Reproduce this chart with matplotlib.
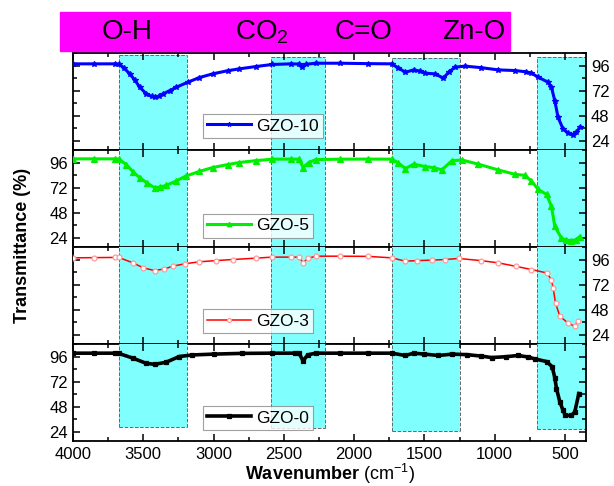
import numpy as np
import matplotlib
matplotlib.use("Agg")
import matplotlib.pyplot as plt
from matplotlib.patches import Rectangle
from matplotlib.ticker import MultipleLocator

# wavenumber (cm-1) and transmittance (%), top panel first
w_gzo10 = [4000, 3850, 3700, 3675, 3640, 3596, 3560, 3525, 3478, 3440, 3419, 3390, 3360, 3310,
           3265, 3183, 3100, 3006, 2900, 2817, 2700, 2582, 2450, 2391, 2370, 2340, 2273, 2100,
           1900, 1732, 1690, 1635, 1576, 1530, 1493, 1423, 1364, 1328, 1281, 1210, 1100, 974,
           856, 780, 738, 690, 620, 596, 572, 549, 513, 480, 442, 418, 395]
t_gzo10 = [97.6, 97.6, 97.6, 97.4, 94, 88, 82, 75.2, 68.8, 66.3, 65.5, 66.5, 68.8, 72,
           75.2, 80, 84.5, 88, 91, 92.8, 95, 97, 97.6, 97.4, 95, 97.2, 98.2, 98.2,
           97.8, 97.6, 94, 89.6, 91.8, 90.5, 88.6, 88, 83.8, 89.6, 94.4, 95.4, 94, 91.8,
           91.2, 90, 88.6, 84.8, 80, 75.2, 62.3, 46.3, 35.1, 31.5, 29.7, 31.9, 36.7]

w_gzo5 = [4000, 3850, 3700, 3675, 3620, 3573, 3525, 3470, 3419, 3380, 3338, 3270, 3197, 3100,
          3006, 2900, 2817, 2700, 2582, 2450, 2391, 2363, 2322, 2273, 2100, 1900, 1732, 1690,
          1635, 1576, 1493, 1430, 1376, 1305, 1234, 1116, 974, 856, 785, 738, 690, 631,
          596, 572, 525, 490, 454, 420, 395]
t_gzo5 = [99.5, 99.5, 99.5, 99.3, 94, 87, 81.5, 76, 71.8, 72.5, 74, 78, 83, 87.5,
          91.2, 94, 96, 97.8, 99.2, 99.3, 99.2, 91.2, 96, 98.8, 99.2, 99.3, 99.2, 96,
          90.2, 94.4, 92.1, 91, 88.9, 97.6, 98.5, 94.4, 88.9, 84.7, 83.7, 78.2, 70.2, 65.4,
          54.1, 34.8, 23.5, 21.5, 21.2, 22, 25]

w_gzo3 = [4000, 3850, 3700, 3675, 3573, 3500, 3419, 3350, 3289, 3200, 3100, 2980, 2864, 2700,
          2582, 2450, 2391, 2363, 2330, 2273, 2100, 1900, 1732, 1635, 1550, 1446, 1350, 1257,
          1100, 974, 850, 738, 631, 596, 584, 567, 536, 478, 430, 407]
t_gzo3 = [97.6, 97.8, 98, 98, 92.8, 88, 85.4, 87, 89.6, 92, 93.8, 95, 96, 97.3,
          98.3, 98.3, 98.3, 92.8, 97, 99.2, 99.2, 99, 97.6, 94.4, 95, 95.4, 96, 97,
          95, 92.8, 89.5, 86.4, 83.2, 76.8, 68.8, 54.4, 41.6, 35.1, 31.9, 36.8]

w_gzo0 = [4000, 3850, 3700, 3675, 3573, 3480, 3419, 3338, 3244, 3150, 3000, 2800, 2582, 2420,
          2391, 2363, 2330, 2273, 2100, 1900, 1732, 1635, 1576, 1500, 1400, 1300, 1200, 1100,
          1022, 920, 833, 760, 714, 631, 591, 572, 560, 536, 513, 497, 454, 430, 401]
t_gzo0 = [99.2, 99.2, 99.2, 99, 94.4, 89.5, 88.5, 90.5, 96, 97.5, 98.3, 99, 99.2, 99.2,
          99, 91.8, 97.6, 99.2, 99.2, 99.2, 99.2, 97, 99.2, 98.3, 97, 98.3, 97.8, 96.5,
          95, 95.8, 97, 95.5, 93.7, 91.2, 86.3, 75.7, 65.3, 52.4, 44.3, 39.5, 39.5, 42.8, 60.5]

names = ["GZO-10", "GZO-5", "GZO-3", "GZO-0"]
waves = [w_gzo10, w_gzo5, w_gzo3, w_gzo0]
trans = [t_gzo10, t_gzo5, t_gzo3, t_gzo0]

# band regions (cm-1) and their labels in the header strip
band_labels = ["O-H", "CO$_2$", "C=O", "Zn-O"]
band_lo = [3675, 2590, 1730, 700]
band_hi = [3190, 2210, 1245, 350]

yticks = [24, 48, 72, 96]

# styles
colors = ["#0000ff", "#00ee00", "#ff0000", "#000000"]
markers = ["*", "^", "o", "s"]
mfcs = ["#0000ff", "#00ee00", "white", "#000000"]
mecs = ["#0000ff", "#00ee00", "#ff9a9a", "#000000"]
lws = [2.2, 2.2, 1.1, 2.6]
msizes = [4, 4, 3.5, 3.5]
label_right = [True, False, True, False]
leg_y = [0.125, 0.095, 0.11, 0.115]
band_top_px = [55, 57, 58, 57]
band_bot_px = [427, 428, 431, 429]
band_text_x = [127, 262, 364, 474]

plt.rc("font", family=["Liberation Sans", "DejaVu Sans"], size=12)
plt.rc("mathtext", fontset="custom", rm="Liberation Sans", bf="Liberation Sans:bold",
       it="Liberation Sans:italic")
plt.rc("axes", linewidth=1.3)

W, H = 614, 486
fig = plt.figure(figsize=(W / 100, H / 100), dpi=100)
left, right, top, bottom = 73 / W, 586 / W, 1 - 53 / H, 1 - 441 / H
ph = (top - bottom) / 4

axes = []
for i in range(4):
    ax = fig.add_axes([left, top - (i + 1) * ph, right - left, ph],
                      sharex=axes[0] if axes else None)
    axes.append(ax)

for i, ax in enumerate(axes):
    ax.set_xlim(4000, 350)
    ax.set_ylim(15, 108)
    ax.xaxis.set_major_locator(MultipleLocator(500))
    ax.xaxis.set_minor_locator(MultipleLocator(250))
    ax.yaxis.set_major_locator(MultipleLocator(24))
    ax.yaxis.set_minor_locator(MultipleLocator(12))
    ax.set_yticks(yticks)
    ax.tick_params(which="both", direction="in", top=True, right=True, width=1.1)
    ax.tick_params(which="major", length=5)
    ax.tick_params(which="minor", length=3)
    ax.tick_params(axis="y", labelleft=not label_right[i], labelright=label_right[i])
    ax.tick_params(axis="x", labelbottom=(i == 3), pad=4)
    ax.set_axisbelow(False)
    ax.spines["top"].set_zorder(1)
    ax.spines["bottom"].set_zorder(1)

    # cyan band regions, cut to their vertical extent in figure space
    pos = ax.get_position()
    for j in range(len(band_lo)):
        ftop = 1 - band_top_px[j] / H
        fbot = 1 - band_bot_px[j] / H
        ymax = min(max((ftop - pos.y0) / pos.height, 0), 1)
        ymin = min(max((fbot - pos.y0) / pos.height, 0), 1)
        if ymax <= ymin:
            continue
        ax.axvspan(band_lo[j], band_hi[j], ymin=ymin, ymax=ymax, color="#80ffff",
                   lw=0, zorder=1.5)
        for xe in (band_lo[j], band_hi[j]):
            ax.axvline(xe, ymin=ymin, ymax=ymax, color="#666666", ls="--", lw=0.7,
                       zorder=1.6)
        tr = ax.get_xaxis_transform()
        if ymax < 1:
            ax.plot([band_lo[j], band_hi[j]], [ymax, ymax], transform=tr, color="#666666",
                    ls="--", lw=0.7, zorder=1.6)
        if ymin > 0:
            ax.plot([band_lo[j], band_hi[j]], [ymin, ymin], transform=tr, color="#666666",
                    ls="--", lw=0.7, zorder=1.6)

    ax.plot(waves[i], trans[i], color=colors[i], lw=lws[i], marker=markers[i],
            ms=msizes[i], mfc=mfcs[i], mec=mecs[i], mew=0.9, label=names[i], zorder=3)
    leg = ax.legend(loc="lower left", bbox_to_anchor=(0.253, leg_y[i]), borderaxespad=0,
                    frameon=True, fancybox=False, handlelength=2.5, handletextpad=0.3,
                    borderpad=0.25, numpoints=1, fontsize=12.5, markerscale=0.8)
    leg.get_frame().set_edgecolor("#888888")
    leg.get_frame().set_linewidth(0.8)

# header strip with band names
fig.patches.append(Rectangle((60 / W, 1 - 51 / H), 450 / W, 39 / H, transform=fig.transFigure,
                             color="#ff00ff", zorder=0))
for j, lab in enumerate(band_labels):
    fig.text(band_text_x[j] / W, 1 - 32 / H, lab, ha="center", va="center", fontsize=20)

fig.text(23 / W, 1 - 245 / H, "Transmittance (%)", rotation=90, ha="center", va="center",
         fontsize=13, fontweight="bold")
fig.text(330 / W, 1 - 474 / H, r"$\mathbf{Wavenumber}$ (cm$^{-1}$)", ha="center",
         va="center", fontsize=13)

fig.savefig("out.png", dpi=100)
